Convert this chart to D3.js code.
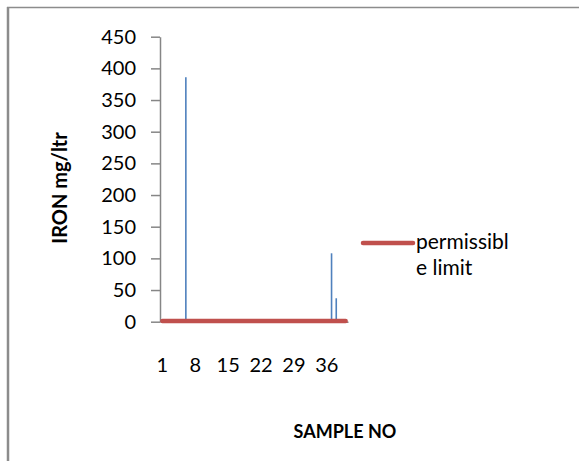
<!DOCTYPE html>
<html>
<head>
<meta charset="utf-8">
<script src="https://cdn.jsdelivr.net/npm/d3@7"></script>
<style>
  html, body { margin: 0; padding: 0; background: #fff; }
  svg { display: block; }
  text { font-family: Lato, "Open Sans", sans-serif; fill: #000; }
</style>
</head>
<body>
<svg id="chart" width="579" height="461"></svg>
<script>
// Sample numbers 1..40
const samples = ["1","2","3","4","5","6","7","8","9","10","11","12","13","14","15","16","17","18","19","20",
                 "21","22","23","24","25","26","27","28","29","30","31","32","33","34","35","36","37","38","39","40"];
// Iron concentration per sample (mg/ltr)
const iron = [0.3, 0.2, 0.4, 0.3, 0.5, 386, 0.4, 0.3, 0.2, 0.3, 0.5, 0.4, 0.3, 0.2, 0.3, 0.4, 0.3, 0.2, 0.4, 0.3,
              0.2, 0.3, 0.4, 0.3, 0.2, 0.3, 0.5, 0.4, 0.3, 0.2, 0.4, 0.3, 0.5, 0.4, 3, 0.6, 108, 37, 0.8, 3];
// Permissible limit (mg/ltr), same for every sample
const limitValue = 1.0;
const limit = samples.map(() => limitValue);
const yTicks = [0, 50, 100, 150, 200, 250, 300, 350, 400, 450];
const xTickLabels = ["1", "8", "15", "22", "29", "36"];

const svg = d3.select("#chart");
const plot = { left: 160, right: 348, top: 36.7, bottom: 321.7 };

const x = d3.scaleBand().domain(samples).range([plot.left, plot.right]).padding(0);
const y = d3.scaleLinear().domain([0, 450]).range([plot.bottom, plot.top]);

// outer frame (top and left edges)
svg.append("line").attr("x1", 7).attr("x2", 579).attr("y1", 7.5).attr("y2", 7.5)
  .attr("stroke", "#8c8c8c").attr("stroke-width", 1.5);
svg.append("line").attr("x1", 8).attr("x2", 8).attr("y1", 7).attr("y2", 461)
  .attr("stroke", "#8c8c8c").attr("stroke-width", 2.5);

// y axis
const yAxis = d3.axisLeft(y).tickValues(yTicks).tickSize(9).tickPadding(15).tickSizeOuter(0);
const gy = svg.append("g").attr("transform", `translate(${plot.left},0)`).call(yAxis);
gy.select(".domain").attr("stroke", "#868686").attr("stroke-width", 1.5);
gy.selectAll(".tick line").attr("stroke", "#868686").attr("stroke-width", 1.5);
gy.selectAll(".tick text").style("font-size", "20px").attr("fill", "#000");

// x axis baseline
const xAxis = d3.axisBottom(x).tickValues(xTickLabels).tickSize(0).tickPadding(36);
const gx = svg.append("g").attr("transform", `translate(0,${plot.bottom})`).call(xAxis);
gx.select(".domain").attr("stroke", "#868686").attr("stroke-width", 1.5);
gx.selectAll(".tick text").style("font-size", "20px").attr("fill", "#000");

// iron bars
svg.append("g").selectAll("rect").data(iron).join("rect")
  .attr("x", (d, i) => x(samples[i]) + x.bandwidth() / 2 - 0.8)
  .attr("width", 1.6)
  .attr("y", d => y(d))
  .attr("height", d => plot.bottom - y(d))
  .attr("fill", "#4F81BD");

// permissible limit line
const line = d3.line()
  .x((d, i) => x(samples[i]) + x.bandwidth() / 2)
  .y(d => y(d));
svg.append("path").datum(limit)
  .attr("d", line)
  .attr("fill", "none")
  .attr("stroke", "#C0504D")
  .attr("stroke-width", 4.5)
  .attr("stroke-linecap", "round");

// legend
const lg = svg.append("g");
lg.append("line").attr("x1", 363).attr("x2", 413).attr("y1", 243).attr("y2", 243)
  .attr("stroke", "#C0504D").attr("stroke-width", 4.5).attr("stroke-linecap", "round");
lg.append("text").attr("x", 416).attr("y", 249).style("font-size", "21px").text("permissibl");
lg.append("text").attr("x", 416).attr("y", 275).style("font-size", "21px").text("e limit");

// axis titles
svg.append("text")
  .attr("transform", `translate(67,188) rotate(-90)`)
  .attr("text-anchor", "middle")
  .style("font-size", "20px").style("font-weight", "bold")
  .text("IRON mg/ltr");
svg.append("text")
  .attr("x", 345).attr("y", 438)
  .attr("text-anchor", "middle")
  .style("font-size", "18px").style("font-weight", "bold")
  .text("SAMPLE NO");
</script>
</body>
</html>
